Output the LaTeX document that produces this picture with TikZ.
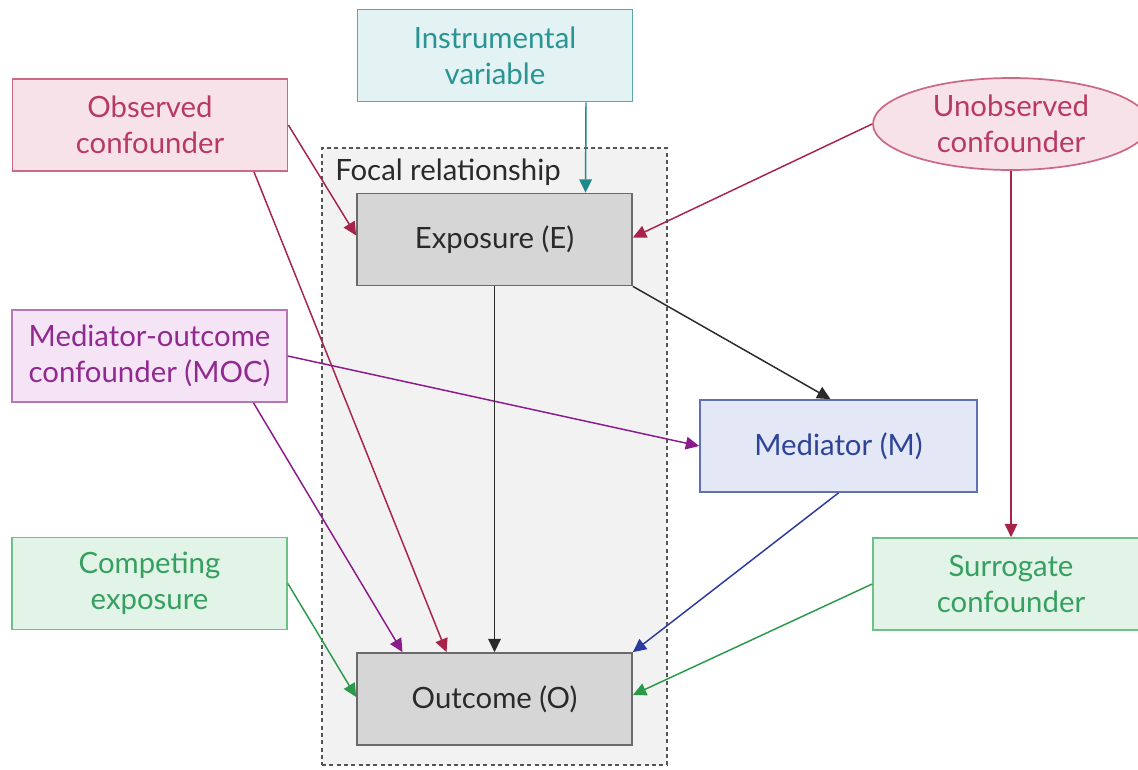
\documentclass[tikz,border=0pt]{standalone}
\usepackage{fontspec}
\setmainfont{Lato}
\usetikzlibrary{shapes.geometric,arrows.meta,calc}
\definecolor{tealD}{HTML}{2A9494}
\definecolor{tealF}{HTML}{E3F2F2}
\definecolor{tealB}{HTML}{5AA8A8}
\definecolor{tealA}{HTML}{1E8A8A}
\definecolor{redT}{HTML}{B83A62}
\definecolor{redF}{HTML}{F8E2EA}
\definecolor{redB}{HTML}{CC6A85}
\definecolor{redA}{HTML}{A8234A}
\definecolor{purT}{HTML}{902A90}
\definecolor{purF}{HTML}{F5E4F5}
\definecolor{purB}{HTML}{B478B4}
\definecolor{purA}{HTML}{8B1A8B}
\definecolor{bluT}{HTML}{2E4496}
\definecolor{bluF}{HTML}{E4E8F6}
\definecolor{bluB}{HTML}{6070B4}
\definecolor{bluA}{HTML}{2A3AA0}
\definecolor{grnT}{HTML}{35A060}
\definecolor{grnF}{HTML}{E2F3E7}
\definecolor{grnB}{HTML}{6EC088}
\definecolor{grnA}{HTML}{2A9A4A}
\definecolor{gryF}{HTML}{D6D6D6}
\definecolor{gryB}{HTML}{6A6A6A}
\definecolor{gryT}{HTML}{2A2A2A}
\definecolor{focF}{HTML}{F2F2F2}
\definecolor{focB}{HTML}{555555}
\begin{document}
\begin{tikzpicture}[x=0.75pt,y=-0.75pt,
  lbl/.style={font=\fontsize{22}{27}\selectfont},
  box/.style={lbl, draw, rectangle, line width=1.3pt, minimum width=206.25pt,
    minimum height=69pt, align=center, inner sep=0pt},
  arr/.style={line width=1.1pt, -{Triangle[length=10pt,width=9.5pt]}}]
\fill[white] (0,0) rectangle (1138,769);
\clip (0,0) rectangle (1138,769);
% focal relationship region
\node[draw=focB, fill=focF, dash pattern=on 3pt off 2.5pt, line width=1pt,
  minimum width=258.75pt, minimum height=462.75pt, inner sep=0pt] (focal) at (494.5,456.5) {};
\node[lbl, text=gryT, anchor=base west, inner sep=0pt] (foclbl) at (335,180) {Focal relationship};
% nodes
\node[box, fill=tealF, draw=tealB, text=tealD] (inst) at (495,55.5) {Instrumental\\variable};
\node[box, fill=redF, draw=redB, text=redT] (obs) at (150,125) {Observed\\confounder};
\node[lbl, ellipse, draw=redB, fill=redF, text=redT, line width=1.3pt, align=center,
  minimum width=207pt, minimum height=69pt, inner sep=0pt] (unobs) at (1011,124) {Unobserved\\confounder};
\node[box, fill=gryF, draw=gryB, text=gryT] (exp) at (494.5,239.5) {Exposure (E)};
\node[box, fill=purF, draw=purB, text=purT] (moc) at (149.5,356) {Mediator-outcome\\confounder (MOC)};
\node[box, fill=bluF, draw=bluB, text=bluT, minimum width=207.75pt] (med) at (838.5,446) {Mediator (M)};
\node[box, fill=grnF, draw=grnB, text=grnT] (comp) at (149.5,583.5) {Competing\\exposure};
\node[box, fill=grnF, draw=grnB, text=grnT, minimum width=207pt] (sur) at (1011,584) {Surrogate\\confounder};
\node[box, fill=gryF, draw=gryB, text=gryT] (out) at (494.5,699) {Outcome (O)};
% connectors
\draw[arr, tealA] ($(inst.south)+(91,0)$) -- ($(exp.north)+(91,0)$);
\draw[arr, redA] (obs.east) -- ($(exp.west)+(0,-4)$);
\draw[arr, redA] ($(obs.south)+(104,0)$) -- ($(out.north)+(-48,0)$);
\draw[arr, redA] (unobs.west) -- ($(exp.east)+(0,-2)$);
\draw[arr, redA] (unobs.south) -- (sur.north);
\draw[arr, gryT] (exp.south east) -- ($(med.north)+(-8,0)$);
\draw[arr, purA] (moc.east) -- (med.west);
\draw[arr, purA] ($(moc.south)+(104,0)$) -- ($(out.north)+(-92,0)$);
\draw[arr, gryT] (exp.south) -- (out.north);
\draw[arr, bluA] (med.south) -- (out.north east);
\draw[arr, grnA] (comp.east) -- ($(out.west)+(0,-2)$);
\draw[arr, grnA] (sur.west) -- ($(out.east)+(0,-4)$);
\end{tikzpicture}
\end{document}
